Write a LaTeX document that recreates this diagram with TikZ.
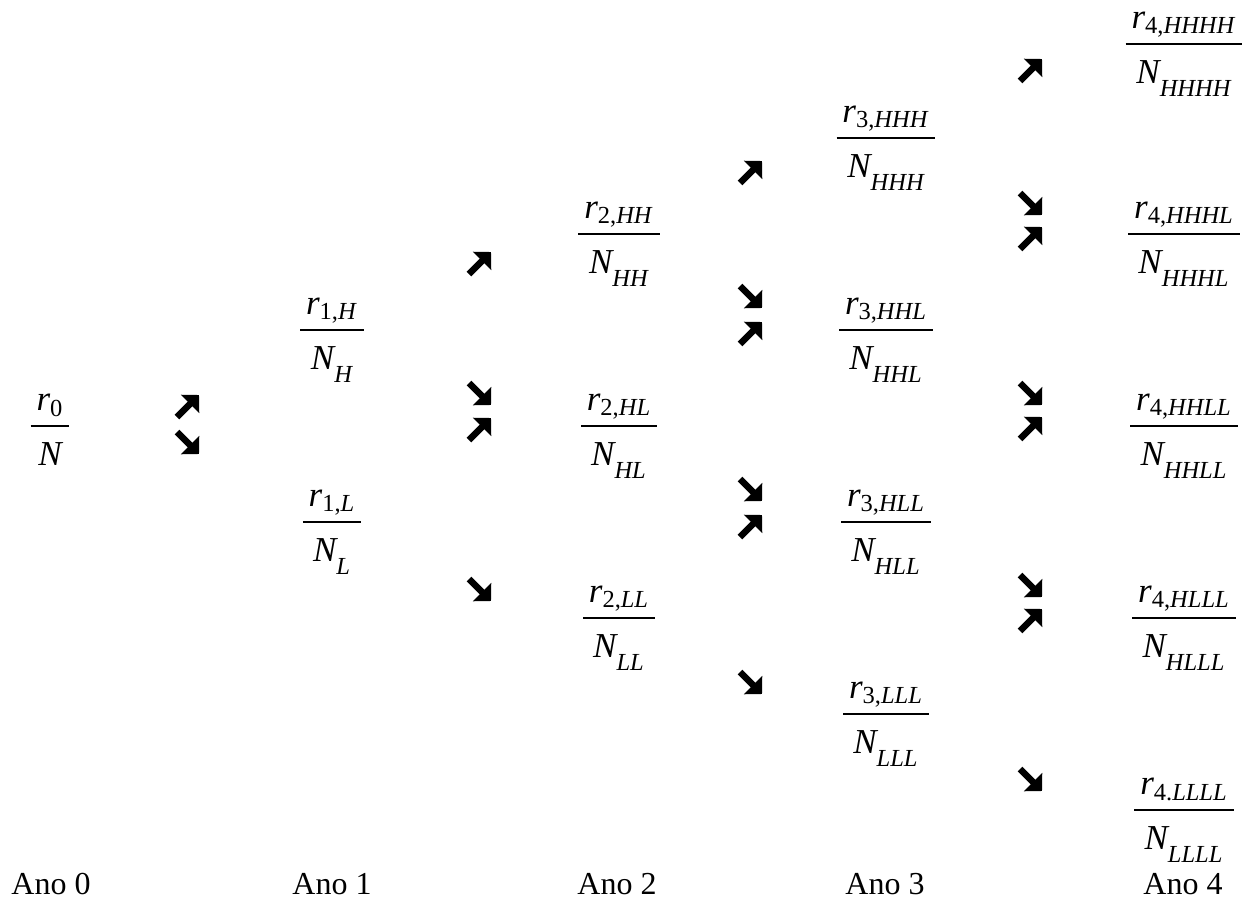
\RequirePackage{fix-cm}
\documentclass[tikz,border=0pt]{standalone}
\usepackage{amsmath}
\usepackage{fontspec}
\setmainfont{Liberation Serif}
\usetikzlibrary{arrows.meta}
\tikzstyle{fracNode}=[anchor=base,yshift=-4.3pt,inner sep=0pt,font=\fontsize{17.5}{20}\selectfont]
\tikzstyle{yearNode}=[anchor=base,inner sep=0pt]
\tikzstyle{bigArrow}=[line width=3.3pt,-{Triangle[length=6.3pt,width=12.6pt]}]
\tikzset{
  upArr/.pic={\draw[bigArrow] (-11,11) -- (11,-11);},
  downArr/.pic={\draw[bigArrow] (-11,-11) -- (11,11);}
}
% r_{t,s} over N_s
\newcommand{\rat}[2]{\genfrac{}{}{0.9pt}{0}%
  {\,\rule[-0.2em]{0pt}{0.2em}\textit{r}_{\text{#1}}\,}%
  {\,\rule{0pt}{0.95em}\textit{N}_{\text{\raisebox{-0.3em}{\itshape #2}}}\,}}

\begin{document}
\begin{tikzpicture}[x=0.5pt,y=-0.5pt,font=\fontsize{16}{19}\selectfont]

    \useasboundingbox (0,0) rectangle (1244,900);

    % ano 0
    \node[fracNode] (N0) at (50,426) {$\genfrac{}{}{0.9pt}{0}{\,\rule[-0.2em]{0pt}{0.2em}\textit{r}_{\text{0}}\,}{\,\rule{0pt}{0.95em}\textit{N}\,}$};

    % ano 1
    \node[fracNode] (NH) at (332,330) {$\rat{1,\textit{H}}{H}$};
    \node[fracNode] (NL) at (332,522) {$\rat{1,\textit{L}}{L}$};

    % ano 2
    \node[fracNode] (NHH) at (619,234) {$\rat{2,\textit{HH}}{HH}$};
    \node[fracNode] (NHL) at (619,426) {$\rat{2,\textit{HL}}{HL}$};
    \node[fracNode] (NLL) at (619,618) {$\rat{2,\textit{LL}}{LL}$};

    % ano 3
    \node[fracNode] (NHHH) at (886,138) {$\rat{3,\textit{HHH}}{HHH}$};
    \node[fracNode] (NHHL) at (886,330) {$\rat{3,\textit{HHL}}{HHL}$};
    \node[fracNode] (NHLL) at (886,522) {$\rat{3,\textit{HLL}}{HLL}$};
    \node[fracNode] (NLLL) at (886,714) {$\rat{3,\textit{LLL}}{LLL}$};

    % ano 4
    \node[fracNode] (NHHHH) at (1184,44) {$\rat{4,\textit{HHHH}}{HHHH}$};
    \node[fracNode] (NHHHL) at (1184,234) {$\rat{4,\textit{HHHL}}{HHHL}$};
    \node[fracNode] (NHHLL) at (1184,426) {$\rat{4,\textit{HHLL}}{HHLL}$};
    \node[fracNode] (NHLLL) at (1184,618) {$\rat{4,\textit{HLLL}}{HLLL}$};
    \node[fracNode] (NLLLL) at (1184,810) {$\rat{4.\textit{LLLL}}{LLLL}$};

    % setas
    \pic at (188,406) {upArr};
    \pic at (188,443) {downArr};

    \pic at (480,263) {upArr};
    \pic at (480,394) {downArr};
    \pic at (480,429) {upArr};
    \pic at (480,590) {downArr};

    \pic at (751,172) {upArr};
    \pic at (751,297) {downArr};
    \pic at (751,333) {upArr};
    \pic at (751,490) {downArr};
    \pic at (751,526) {upArr};
    \pic at (751,683) {downArr};

    \pic at (1031,70) {upArr};
    \pic at (1031,204) {downArr};
    \pic at (1031,238) {upArr};
    \pic at (1031,394) {downArr};
    \pic at (1031,428) {upArr};
    \pic at (1031,586) {downArr};
    \pic at (1031,620) {upArr};
    \pic at (1031,780) {downArr};

    % anos
    \node[yearNode] (A0) at (51,894) {Ano 0};
    \node[yearNode] (A1) at (332,894) {Ano 1};
    \node[yearNode] (A2) at (617,894) {Ano 2};
    \node[yearNode] (A3) at (885,894) {Ano 3};
    \node[yearNode] (A4) at (1183,894) {Ano 4};

\end{tikzpicture}
\end{document}
